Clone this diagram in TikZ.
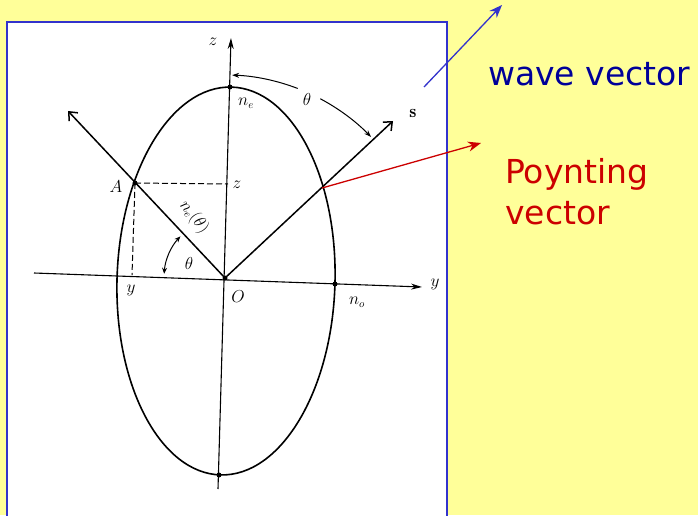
\documentclass[tikz,border=0pt]{standalone}
\usepackage{fontspec}
\newfontfamily\notefont{DejaVu Sans}
\usetikzlibrary{arrows.meta,calc}
\definecolor{slidebg}{HTML}{FFFF99}
\definecolor{framebl}{HTML}{3333CC}
\definecolor{wavebl}{HTML}{000099}
\definecolor{poyred}{HTML}{CC0000}
\begin{document}
\begin{tikzpicture}[x=1pt,y=1pt,
  axis/.style={line width=1.1pt,-{Stealth[length=11pt,width=6pt]}},
  ray/.style={line width=1.5pt,-{Straight Barb[length=7pt,width=12pt]}},
  guide/.style={line width=1pt,dash pattern=on 6pt off 3pt},
  lbl/.style={font=\fontsize{16}{18}\selectfont,inner sep=0pt},
  dot/.style={circle,fill,inner sep=0pt,minimum size=5pt},
  angarc/.style={line width=1pt},
  note/.style={font=\notefont\fontsize{33}{40}\selectfont,inner sep=0pt,anchor=base west}]
\useasboundingbox (0,0) rectangle (698,515);
\fill[slidebg] (0,0) rectangle (698,515);
\filldraw[fill=white,draw=framebl,line width=2.6pt] (7,493) rectangle (447,-5);

\coordinate (O) at (225,237);
\coordinate (zlow) at (218,26);
\coordinate (ztop) at (231,477);
\coordinate (ylow) at (34,242);
\coordinate (ytop) at (422,228);
\coordinate (A) at (135,332);
\coordinate (k) at (68,404);
\coordinate (s) at (393,394);
\coordinate (P) at (322,327);
\coordinate (zA) at (228,331);
\coordinate (yA) at (132,240);
\coordinate (ne) at (230,428);
\coordinate (no) at (335,231);
\coordinate (bot) at (219,40);

\draw[axis] (zlow)--(ztop);
\draw[axis] (ylow)--(ytop);
\draw[line width=1.6pt,rotate around={-1.65:(226,234)}] (226,234) ellipse [x radius=109,y radius=194];

\draw[ray] (O)--(k);
\draw[ray] (O)--(s);
\draw[guide] (A)--(zA);
\draw[guide] (A)--(yA);

\draw[angarc,{Stealth[length=7pt,width=5pt]}-] ($(O)+(44:203)$) arc[start angle=44,end angle=62,radius=203];
\draw[angarc,-{Stealth[length=7pt,width=5pt]}] ($(O)+(69:203)$) arc[start angle=69,end angle=88,radius=203];
\draw[angarc,{Stealth[length=6pt,width=5pt]}-{Stealth[length=6pt,width=5pt]}] ($(O)+(137:61)$) arc[start angle=137,end angle=176,radius=61];

\foreach \p in {A,ne,O,no,bot}
  \node[dot] at (\p) {};

\node[lbl] (ztoplbl) at (213,473) {$z$};
\node[lbl] (ylbl) at (435,231) {$y$};
\node[lbl] (nelbl) at (246,412) {$n_e$};
\node[lbl] (Albl) at (116,328) {$A$};
\node[lbl] (zAlbl) at (237,330) {$z$};
\node[lbl] (yAlbl) at (131,225) {$y$};
\node[lbl,rotate=-52] (nthlbl) at (194,298) {$n_e(\theta)$};
\node[lbl] (thlow) at (189,252) {$\theta$};
\node[lbl] (thtop) at (307,415) {$\theta$};
\node[lbl] (Olbl) at (238,218) {$O$};
\node[lbl] (nolbl) at (357,213) {$n_o$};
\node[lbl,font=\fontsize{18}{20}\selectfont] (slbl) at (413,402) {$\mathbf{s}$};

\coordinate (wfrom) at (424,428);
\coordinate (wto) at (502,510);
\coordinate (pto) at (481,372);
\draw[framebl,line width=1.3pt,-{Stealth[length=13pt,width=10pt]}] (wfrom)--(wto);
\draw[poyred,line width=1.3pt,-{Stealth[length=13pt,width=10pt]}] (P)--(pto);
\node[note,text=wavebl] (wave) at (488,429) {wave vector};
\node[note,text=poyred] (poy) at (505,332) {Poynting};
\node[note,text=poyred] (poy2) at (505,291) {vector};
\end{tikzpicture}
\end{document}
